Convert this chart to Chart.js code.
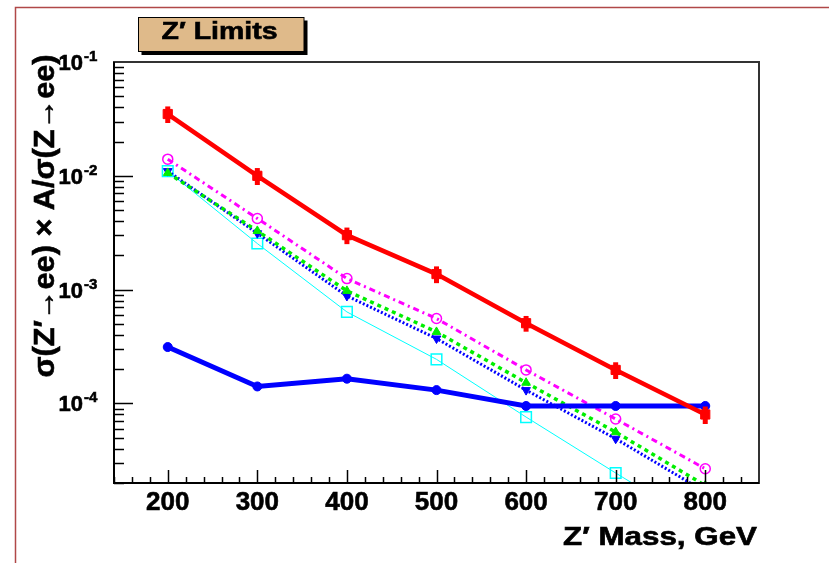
<!DOCTYPE html>
<html>
<head>
<meta charset="utf-8">
<script src="https://cdn.jsdelivr.net/npm/chart.js@4/dist/chart.umd.min.js"></script>
<style>
  html, body { margin: 0; padding: 0; background: #fff; }
  canvas { display: block; }
</style>
</head>
<body>
<canvas id="c" width="829" height="563"></canvas>
<script>
// Z' mass points (GeV)
const masses = [200, 300, 400, 500, 600, 700, 800];

// sigma(Z'->ee) x A / sigma(Z->ee) for each curve
const redCurve        = [0.0349, 0.0100, 0.00301, 0.00137, 5.07e-4, 1.97e-4, 8.0e-5];
const redErrors       = [0.0058, 0.0017, 0.0005, 0.00023, 0.00008, 0.000033, 0.000014];
const blueLimit       = [3.13e-4, 1.41e-4, 1.65e-4, 1.31e-4, 9.5e-5, 9.5e-5, 9.5e-5];
const magentaCurve    = [0.0140, 4.22e-3, 1.25e-3, 5.57e-4, 1.97e-4, 7.3e-5, 2.67e-5];
const greenCurve      = [0.0106, 3.28e-3, 9.75e-4, 4.25e-4, 1.52e-4, 5.6e-5, 1.9e-5];
const blueDottedCurve = [0.0110, 3.13e-3, 8.8e-4, 3.72e-4, 1.31e-4, 4.9e-5, 1.67e-5];
const cyanCurve       = [0.0110, 2.54e-3, 6.37e-4, 2.44e-4, 7.59e-5, 2.45e-5, 8.1e-6];

// axis ranges and tick labels
const xRange = [140, 860];
const yRange = [2e-5, 0.1];
const xTickLabels = ['200', '300', '400', '500', '600', '700', '800'];
const xMinorStep = 20;
const yTickExponents = [-4, -3, -2, -1];

const titleText = 'Z\u2032 Limits';
const xTitle = 'Z\u2032 Mass, GeV';
const yTitle = '\u03c3(Z\u2032\u2192ee) \u00d7 A/\u03c3(Z\u2192ee)';

const FONT = '"Liberation Sans", Arial, Helvetica, sans-serif';

function pts(vals) {
  return vals.map((v, i) => ({ x: masses[i], y: v }));
}

// heavy text: fill plus a thin outline of the same colour
function heavyText(ctx, text, x, y) {
  ctx.fillText(text, x, y);
  ctx.strokeText(text, x, y);
}

// draw text stretched along its baseline to a given width
function fitText(ctx, text, x, y, width, align) {
  ctx.save();
  ctx.textAlign = 'left';
  const w = ctx.measureText(text).width;
  const s = width / w;
  ctx.translate(x, y);
  ctx.scale(s, 1);
  let dx = 0;
  if (align === 'center') dx = -w / 2;
  else if (align === 'right') dx = -w;
  heavyText(ctx, text, dx, 0);
  ctx.restore();
}

const decorations = {
  id: 'decorations',
  beforeDraw(chart) {
    const ctx = chart.ctx;
    ctx.save();
    ctx.fillStyle = '#fff';
    ctx.fillRect(0, 0, chart.width, chart.height);
    // outer pad frame
    ctx.strokeStyle = '#b04848';
    ctx.lineWidth = 1.5;
    ctx.beginPath();
    ctx.moveTo(15.5, chart.height);
    ctx.lineTo(15.5, 7.5);
    ctx.lineTo(chart.width, 7.5);
    ctx.stroke();
    // title box with drop shadow
    ctx.fillStyle = '#000';
    ctx.fillRect(141.5, 20.5, 166, 34.5);
    ctx.fillStyle = '#dfba8a';
    ctx.fillRect(138.5, 17.5, 165.5, 34);
    ctx.strokeStyle = '#000';
    ctx.lineWidth = 1;
    ctx.strokeRect(138.5, 17.5, 165.5, 34);
    ctx.fillStyle = '#000';
    ctx.strokeStyle = '#000';
    ctx.lineWidth = 0.6;
    ctx.font = 'bold 24px ' + FONT;
    ctx.textBaseline = 'alphabetic';
    fitText(ctx, titleText, 219.5, 39, 116, 'center');
    ctx.restore();
  },
  afterDatasetsDraw(chart) {
    // vertical error bars on the red curve
    const ctx = chart.ctx;
    const xs = chart.scales.x, ys = chart.scales.y;
    const a = chart.chartArea;
    ctx.save();
    ctx.beginPath();
    ctx.rect(a.left, a.top, a.right - a.left, a.bottom - a.top);
    ctx.clip();
    ctx.strokeStyle = '#ff0000';
    ctx.lineWidth = 5;
    ctx.lineCap = 'butt';
    redCurve.forEach((v, i) => {
      const x = xs.getPixelForValue(masses[i]);
      const y1 = ys.getPixelForValue(v + redErrors[i]);
      const y2 = ys.getPixelForValue(v - redErrors[i]);
      ctx.beginPath();
      ctx.moveTo(x, y1);
      ctx.lineTo(x, y2);
      ctx.stroke();
    });
    ctx.restore();
  },
  afterDraw(chart) {
    const ctx = chart.ctx;
    const xs = chart.scales.x, ys = chart.scales.y;
    const a = chart.chartArea;
    ctx.save();
    // plot frame
    ctx.strokeStyle = '#333';
    ctx.lineWidth = 2;
    ctx.strokeRect(a.left, a.top, a.right - a.left, a.bottom - a.top);
    ctx.strokeStyle = '#000';
    ctx.beginPath();
    ctx.moveTo(a.left, a.top);
    ctx.lineTo(a.left, a.bottom);
    ctx.lineTo(a.right, a.bottom);
    ctx.stroke();

    // x ticks (inside, bottom axis)
    ctx.lineWidth = 1.5;
    const majorX = xTickLabels.map(Number);
    for (let v = Math.ceil(xRange[0] / xMinorStep) * xMinorStep; v < xRange[1]; v += xMinorStep) {
      const x = Math.round(xs.getPixelForValue(v)) + 0.5;
      const len = majorX.includes(v) ? 13 : 6;
      ctx.beginPath();
      ctx.moveTo(x, a.bottom);
      ctx.lineTo(x, a.bottom - len);
      ctx.stroke();
    }
    // y ticks (inside, left axis), decades and 2..9 subdivisions
    for (let e = -5; e <= -2; e++) {
      for (let m = 1; m <= 9; m++) {
        const v = m * Math.pow(10, e);
        if (v < yRange[0] * 0.999 || v > yRange[1] * 1.001) continue;
        const y = Math.round(ys.getPixelForValue(v)) + 0.5;
        const len = m === 1 ? 19 : 10;
        ctx.beginPath();
        ctx.moveTo(a.left, y);
        ctx.lineTo(a.left + len, y);
        ctx.stroke();
      }
    }

    // labels
    ctx.fillStyle = '#000';
    ctx.strokeStyle = '#000';
    ctx.lineWidth = 0.6;
    ctx.textBaseline = 'alphabetic';

    // x tick labels
    ctx.font = 'bold 26px ' + FONT;
    ctx.textAlign = 'center';
    xTickLabels.forEach(t => {
      heavyText(ctx, t, xs.getPixelForValue(Number(t)), a.bottom + 27);
    });

    // y tick labels: 10 with superscript exponent
    yTickExponents.forEach(e => {
      const y = ys.getPixelForValue(Math.pow(10, e));
      ctx.font = 'bold 22px ' + FONT;
      ctx.textAlign = 'right';
      heavyText(ctx, '10', 83, y + 8);
      ctx.font = 'bold 15px ' + FONT;
      ctx.textAlign = 'left';
      heavyText(ctx, String(e), 84, y - 1);
    });

    // axis titles
    ctx.font = 'bold 25px ' + FONT;
    fitText(ctx, xTitle, a.right - 2, 545, 194, 'right');

    ctx.save();
    ctx.translate(54, 216);
    ctx.rotate(-Math.PI / 2);
    ctx.font = 'bold 30px ' + FONT;
    fitText(ctx, yTitle, 0, 0, 323, 'center');
    ctx.restore();

    ctx.restore();
  }
};

const ds = (label, data, color, width, dash, style, radius, filled, rotation) => ({
  label,
  data: pts(data),
  borderColor: color,
  borderWidth: width,
  borderDash: dash,
  backgroundColor: filled ? color : 'rgba(0,0,0,0)',
  pointStyle: style,
  pointRadius: radius,
  pointBorderColor: color,
  pointBackgroundColor: filled ? color : 'rgba(0,0,0,0)',
  pointBorderWidth: filled ? 1 : 1.5,
  pointRotation: rotation || 0,
  tension: 0,
  clip: 0
});

new Chart(document.getElementById('c'), {
  type: 'line',
  data: {
    datasets: [
      ds('red', redCurve, '#ff0000', 4.5, [], 'rect', 6.5, true),
      ds('limit', blueLimit, '#0000ff', 5, [], 'circle', 4.5, true),
      ds('magenta', magentaCurve, '#ff00ff', 3, [6, 4, 2, 4], 'circle', 5, false),
      ds('green', greenCurve, '#00ee00', 3.5, [4, 4], 'triangle', 5, true),
      ds('blueDotted', blueDottedCurve, '#0000ff', 3, [2, 2], 'triangle', 5, true, 180),
      ds('cyan', cyanCurve, '#00ffff', 1, [], 'rect', 7.5, false)
    ]
  },
  options: {
    responsive: false,
    animation: false,
    devicePixelRatio: 1,
    layout: { autoPadding: false, padding: { left: 114, top: 62, right: 70, bottom: 80 } },
    plugins: { legend: { display: false }, tooltip: { enabled: false } },
    events: [],
    scales: {
      x: { type: 'linear', min: xRange[0], max: xRange[1], display: false },
      y: { type: 'logarithmic', min: yRange[0], max: yRange[1], display: false }
    }
  },
  plugins: [decorations]
});
</script>
</body>
</html>
